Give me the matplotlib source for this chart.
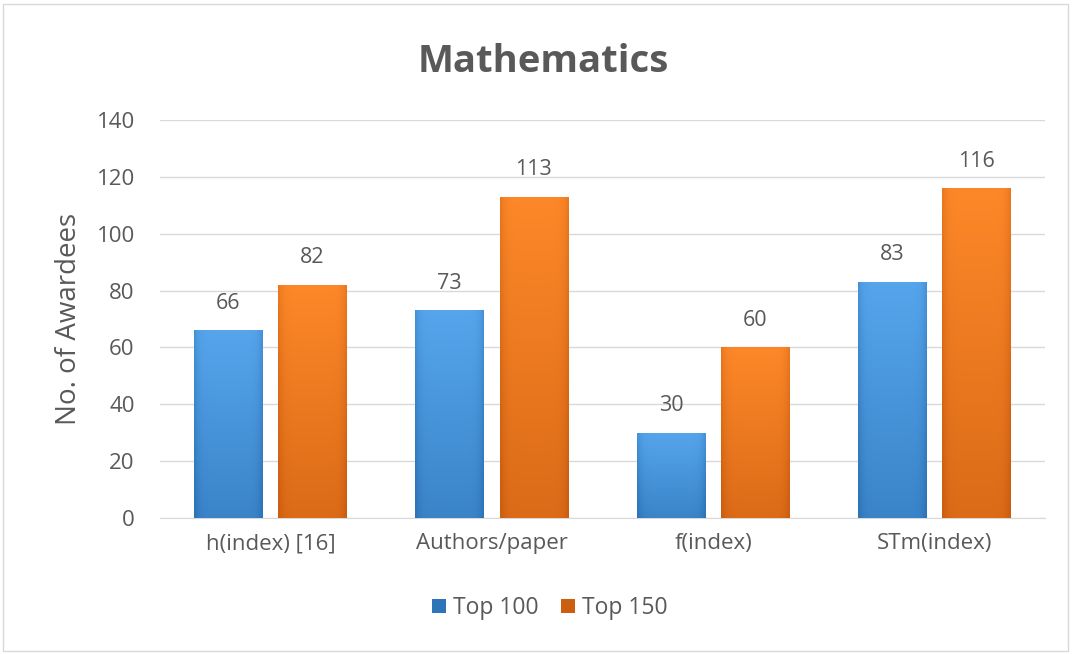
import matplotlib
matplotlib.use("Agg")
import matplotlib.pyplot as plt
import numpy as np
from matplotlib.patches import Rectangle, Patch
from matplotlib.colors import LinearSegmentedColormap

categories = ["h(index) [16]", "Authors/paper", "f(index)", "STm(index)"]
series_names = ["Top 100", "Top 150"]
top100 = [66, 73, 30, 83]
top150 = [82, 113, 60, 116]
yticks = [0, 20, 40, 60, 80, 100, 120, 140]

plt.rcParams['font.family'] = ['Open Sans', 'DejaVu Sans']
TXT = '#595959'

fig = plt.figure(figsize=(10.72, 6.54), dpi=100)
ax = fig.add_axes([0.149, 0.208, 0.826, 0.6085])

x = np.arange(len(categories))
bw = 0.31
off = 0.19

blue_cols = ['#58a8ef', '#2e74b8']
orange_cols = ['#ff8a2a', '#cc5e10']

def gradient_bars(bars, cols):
    cm = LinearSegmentedColormap.from_list('g', [cols[1], cols[0]])
    ny, nx = 200, 80
    yy = np.linspace(0, 1, ny)[:, None]
    xx = np.linspace(-1, 1, nx)[None, :]
    val = 0.3 + 0.65 * yy - 0.4 * (np.abs(xx) ** 8)
    val = np.clip(val, 0, 1)
    for b in bars:
        x0, w, h = b.get_x(), b.get_width(), b.get_height()
        im = ax.imshow(val, cmap=cm, vmin=0, vmax=1, origin='lower',
                       extent=[x0, x0 + w, 0, h], aspect='auto', zorder=3,
                       interpolation='bilinear')
        im.set_clip_path(b)
        b.set_facecolor('none')

b1 = ax.bar(x - off, top100, bw, color=blue_cols[1], edgecolor='none', zorder=3, label=series_names[0])
b2 = ax.bar(x + off, top150, bw, color=orange_cols[1], edgecolor='none', zorder=3, label=series_names[1])
gradient_bars(b1, blue_cols)
gradient_bars(b2, orange_cols)

for bars, vals in ((b1, top100), (b2, top150)):
    for b, v in zip(bars, vals):
        ax.annotate(str(v), (b.get_x() + b.get_width() / 2, v), xytext=(0, 12),
                    textcoords='offset points', ha='center', va='bottom',
                    fontsize=15.5, color=TXT)

ax.set_xlim(-0.5, len(categories) - 0.5)
ax.set_ylim(0, 140)
ax.set_yticks(yticks)
ax.set_xticks(x)
ax.set_xticklabels(categories)
ax.tick_params(axis='both', length=0, labelsize=16, colors=TXT)
ax.tick_params(axis='x', pad=11)
ax.tick_params(axis='y', pad=18)
ax.grid(axis='y', color='#d9d9d9', linewidth=1, zorder=0)
ax.set_axisbelow(True)
for s in ['top', 'right', 'left']:
    ax.spines[s].set_visible(False)
ax.spines['bottom'].set_color('#d9d9d9')

ax.set_ylabel("No. of Awardees", fontsize=20, color=TXT, labelpad=10)
fig.text(0.507, 0.905, "Mathematics", ha='center', va='center', fontsize=27.5,
         fontweight='bold', color=TXT)

handles = [Patch(facecolor=blue_cols[1], edgecolor='none'),
           Patch(facecolor=orange_cols[1], edgecolor='none')]
fig.legend(handles, series_names, loc='center', bbox_to_anchor=(0.513, 0.07),
           ncol=2, frameon=False, fontsize=16.5, labelcolor=TXT,
           handlelength=0.6, handleheight=0.6, handletextpad=0.3, columnspacing=1.0)

fig.add_artist(Rectangle((0.003, 0.004), 0.993, 0.99, transform=fig.transFigure,
                         fill=False, edgecolor='#d9d9d9', linewidth=1))

fig.savefig("out.png", dpi=100)
